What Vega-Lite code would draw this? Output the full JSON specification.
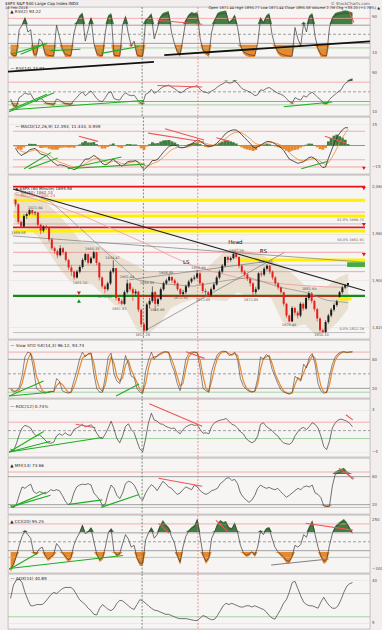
{
"$schema":"https://vega.github.io/schema/vega-lite/v6.json",
"background":"#f2eeee",
"padding":{"left":4,"top":1,"right":6,"bottom":0},
"spacing":1,
"bounds":"flush",
"config":{
 "view":{"stroke":"#a8a0a0","strokeWidth":0.6,"fill":"#f7f4f4"},
 "axis":{"domain":false,"ticks":false,"labelFontSize":4,"labelColor":"#555","labelFont":"DejaVu Sans","labelPadding":1.5,"gridColor":"#e3dcdc","gridWidth":0.5,"labelOverlap":false},
 "text":{"font":"DejaVu Sans"}
},
"datasets":{
"d":[
{"t":0.125,"o":2038,"h":2038.5,"l":2026,"c":2030,"r2":10,"r14":35,"m":-2,"s":-1.33,"hg":-0.67,"k":18,"dd":20,"roc":-3.5,"mfi":18,"cci":-300,"adx":25},
{"t":0.375,"o":2030,"h":2032,"l":1997,"c":2000,"r2":3,"r14":22,"m":-5,"s":-2.54,"hg":-2.46,"k":12,"dd":15,"roc":-3.8,"mfi":14,"cci":-250,"adx":36},
{"t":0.625,"o":2000,"h":2002,"l":1989.7,"c":1992,"r2":4,"r14":20,"m":-7,"s":-4.01,"hg":-2.99,"k":15,"dd":14,"roc":-2.5,"mfi":20,"cci":-160,"adx":40},
{"t":0.875,"o":1992,"h":2013,"l":1990,"c":2010,"r2":60,"r14":38,"m":-6,"s":-4.67,"hg":-1.33,"k":22,"dd":17,"roc":-0.8,"mfi":40,"cci":-40,"adx":41},
{"t":1.125,"o":2010,"h":2016,"l":2005,"c":2013,"r2":70,"r14":42,"m":-5,"s":-4.78,"hg":-0.22,"k":45,"dd":30,"roc":0.5,"mfi":58,"cci":60,"adx":38},
{"t":1.375,"o":2013,"h":2022,"l":2011,"c":2020,"r2":85,"r14":48,"m":-3,"s":-4.19,"hg":1.19,"k":85,"dd":55,"roc":1.0,"mfi":55,"cci":120,"adx":30},
{"t":1.625,"o":2020,"h":2021,"l":2012,"c":2015,"r2":55,"r14":45,"m":-2.5,"s":-3.63,"hg":1.13,"k":95,"dd":80,"roc":0.8,"mfi":60,"cci":80,"adx":24},
{"t":1.875,"o":2015,"h":2018,"l":2011,"c":2016,"r2":60,"r14":46,"m":-2,"s":-3.09,"hg":1.09,"k":92,"dd":92,"roc":0.5,"mfi":64,"cci":40,"adx":19},
{"t":2.125,"o":2016,"h":2016,"l":1990,"c":1995,"r2":8,"r14":35,"m":-4,"s":-3.39,"hg":-0.61,"k":60,"dd":78,"roc":-0.5,"mfi":48,"cci":-120,"adx":19},
{"t":2.375,"o":1995,"h":1997,"l":1979,"c":1985,"r2":5,"r14":30,"m":-6,"s":-4.25,"hg":-1.75,"k":20,"dd":45,"roc":-1,"mfi":44,"cci":-130,"adx":20},
{"t":2.625,"o":1985,"h":1994,"l":1982,"c":1992,"r2":40,"r14":36,"m":-6.5,"s":-4.99,"hg":-1.51,"k":15,"dd":30,"roc":-0.8,"mfi":48,"cci":-80,"adx":20},
{"t":2.875,"o":1992,"h":1995,"l":1986,"c":1990,"r2":33,"r14":35,"m":-7,"s":-5.65,"hg":-1.35,"k":12,"dd":16,"roc":-1.2,"mfi":46,"cci":-60,"adx":20},
{"t":3.125,"o":1990,"h":1991,"l":1966,"c":1970,"r2":8,"r14":28,"m":-9,"s":-6.76,"hg":-2.24,"k":10,"dd":12,"roc":-1.8,"mfi":43,"cci":-150,"adx":22},
{"t":3.375,"o":1970,"h":1972,"l":1952,"c":1955,"r2":4,"r14":26,"m":-11,"s":-8.16,"hg":-2.84,"k":12,"dd":12,"roc":-2.3,"mfi":47,"cci":-190,"adx":25},
{"t":3.625,"o":1955,"h":1958,"l":1945,"c":1950,"r2":3,"r14":25,"m":-12.5,"s":-9.59,"hg":-2.91,"k":14,"dd":13,"roc":-2.4,"mfi":52,"cci":-170,"adx":28},
{"t":3.875,"o":1950,"h":1953,"l":1938,"c":1943,"r2":2,"r14":24,"m":-14,"s":-11.05,"hg":-2.95,"k":13,"dd":13,"roc":-2.2,"mfi":50,"cci":-140,"adx":30},
{"t":4.125,"o":1943,"h":1960,"l":1941,"c":1955,"r2":70,"r14":35,"m":-13.5,"s":-11.86,"hg":-1.64,"k":40,"dd":25,"roc":-1,"mfi":52,"cci":-20,"adx":29},
{"t":4.375,"o":1955,"h":1957,"l":1944,"c":1948,"r2":45,"r14":33,"m":-14,"s":-12.57,"hg":-1.43,"k":35,"dd":32,"roc":-0.6,"mfi":50,"cci":-60,"adx":31},
{"t":4.625,"o":1948,"h":1950,"l":1932,"c":1935,"r2":18,"r14":29,"m":-14.5,"s":-13.21,"hg":-1.29,"k":15,"dd":28,"roc":-0.9,"mfi":40,"cci":-120,"adx":33},
{"t":4.875,"o":1935,"h":1937,"l":1918,"c":1922,"r2":6,"r14":26,"m":-15.5,"s":-13.96,"hg":-1.54,"k":12,"dd":20,"roc":-0.4,"mfi":28,"cci":-160,"adx":34},
{"t":5.125,"o":1922,"h":1926,"l":1908,"c":1915,"r2":4,"r14":25,"m":-16,"s":-14.63,"hg":-1.37,"k":10,"dd":12,"roc":-0.8,"mfi":20,"cci":-200,"adx":34},
{"t":5.375,"o":1915,"h":1917,"l":1901,"c":1905,"r2":3,"r14":24,"m":-17,"s":-15.41,"hg":-1.59,"k":12,"dd":11,"roc":-0.9,"mfi":24,"cci":-180,"adx":34},
{"t":5.625,"o":1905,"h":1918,"l":1903,"c":1915,"r2":50,"r14":32,"m":-16,"s":-15.61,"hg":-0.39,"k":35,"dd":22,"roc":0.2,"mfi":45,"cci":-40,"adx":32},
{"t":5.875,"o":1915,"h":1926,"l":1912,"c":1923,"r2":75,"r14":38,"m":-14.5,"s":-15.24,"hg":0.74,"k":55,"dd":40,"roc":0.5,"mfi":58,"cci":40,"adx":28},
{"t":6.125,"o":1923,"h":1938,"l":1920,"c":1935,"r2":88,"r14":45,"m":-12,"s":-14.17,"hg":2.17,"k":80,"dd":62,"roc":0.8,"mfi":62,"cci":100,"adx":24},
{"t":6.375,"o":1935,"h":1947,"l":1932,"c":1945,"r2":93,"r14":50,"m":-9.5,"s":-12.63,"hg":3.13,"k":95,"dd":82,"roc":1.2,"mfi":64,"cci":180,"adx":22},
{"t":6.625,"o":1945,"h":1946,"l":1927,"c":1930,"r2":35,"r14":42,"m":-9.5,"s":-11.6,"hg":2.1,"k":85,"dd":88,"roc":0.7,"mfi":63,"cci":90,"adx":20},
{"t":6.875,"o":1930,"h":1941,"l":1928,"c":1938,"r2":60,"r14":47,"m":-8.5,"s":-10.58,"hg":2.08,"k":92,"dd":90,"roc":0.9,"mfi":65,"cci":110,"adx":17},
{"t":7.125,"o":1938,"h":1950.3,"l":1936,"c":1948,"r2":85,"r14":52,"m":-7,"s":-9.4,"hg":2.4,"k":93,"dd":92,"roc":1.1,"mfi":62,"cci":150,"adx":15},
{"t":7.375,"o":1948,"h":1949,"l":1926,"c":1930,"r2":30,"r14":44,"m":-8,"s":-8.94,"hg":0.94,"k":50,"dd":72,"roc":0.6,"mfi":45,"cci":0,"adx":12},
{"t":7.625,"o":1930,"h":1932,"l":1900,"c":1905,"r2":8,"r14":36,"m":-10,"s":-9.29,"hg":-0.71,"k":20,"dd":38,"roc":-0.5,"mfi":38,"cci":-140,"adx":11.5},
{"t":7.875,"o":1905,"h":1907,"l":1886,"c":1890,"r2":4,"r14":31,"m":-12.5,"s":-10.35,"hg":-2.15,"k":12,"dd":20,"roc":-1.3,"mfi":30,"cci":-200,"adx":17},
{"t":8.125,"o":1890,"h":1893,"l":1878,"c":1885,"r2":3,"r14":30,"m":-13.5,"s":-11.39,"hg":-2.11,"k":12,"dd":14,"roc":-1.5,"mfi":18,"cci":-180,"adx":20},
{"t":8.375,"o":1885,"h":1898,"l":1882,"c":1895,"r2":55,"r14":38,"m":-13,"s":-11.92,"hg":-1.08,"k":45,"dd":28,"roc":-0.6,"mfi":22,"cci":-60,"adx":18},
{"t":8.625,"o":1895,"h":1918,"l":1892,"c":1915,"r2":88,"r14":48,"m":-11,"s":-11.62,"hg":0.62,"k":85,"dd":60,"roc":0.5,"mfi":45,"cci":100,"adx":16},
{"t":8.875,"o":1915,"h":1934.5,"l":1912,"c":1921,"r2":92,"r14":50,"m":-9.5,"s":-10.92,"hg":1.42,"k":93,"dd":85,"roc":1.8,"mfi":62,"cci":140,"adx":15},
{"t":9.125,"o":1921,"h":1921,"l":1866,"c":1870,"r2":4,"r14":36,"m":-11.5,"s":-11.11,"hg":-0.39,"k":50,"dd":72,"roc":0.3,"mfi":55,"cci":-110,"adx":17},
{"t":9.375,"o":1870,"h":1874,"l":1860,"c":1865,"r2":3,"r14":34,"m":-13,"s":-11.73,"hg":-1.27,"k":35,"dd":45,"roc":-1.5,"mfi":40,"cci":-150,"adx":21},
{"t":9.625,"o":1865,"h":1868,"l":1857.8,"c":1860,"r2":2,"r14":33,"m":-14.5,"s":-12.64,"hg":-1.86,"k":30,"dd":35,"roc":-2.3,"mfi":33,"cci":-130,"adx":23.5},
{"t":9.875,"o":1860,"h":1883,"l":1858,"c":1880,"r2":70,"r14":42,"m":-13.5,"s":-12.93,"hg":-0.57,"k":55,"dd":42,"roc":-1,"mfi":45,"cci":-20,"adx":23},
{"t":10.125,"o":1880,"h":1901.4,"l":1877,"c":1895,"r2":88,"r14":48,"m":-11.5,"s":-12.46,"hg":0.96,"k":88,"dd":68,"roc":0.8,"mfi":65,"cci":80,"adx":21},
{"t":10.375,"o":1895,"h":1897,"l":1881,"c":1885,"r2":50,"r14":44,"m":-11,"s":-11.98,"hg":0.98,"k":70,"dd":78,"roc":1.3,"mfi":70,"cci":30,"adx":19},
{"t":10.625,"o":1885,"h":1888,"l":1865,"c":1878,"r2":25,"r14":42,"m":-11,"s":-11.66,"hg":0.66,"k":45,"dd":58,"roc":0.2,"mfi":68,"cci":-60,"adx":17},
{"t":10.875,"o":1878,"h":1885,"l":1874,"c":1881,"r2":35,"r14":43,"m":-10.5,"s":-11.28,"hg":0.78,"k":42,"dd":45,"roc":-0.4,"mfi":62,"cci":-40,"adx":16},
{"t":11.125,"o":1881,"h":1882,"l":1846,"c":1850,"r2":5,"r14":35,"m":-12,"s":-11.52,"hg":-0.48,"k":20,"dd":32,"roc":-2,"mfi":50,"cci":-180,"adx":20},
{"t":11.375,"o":1850,"h":1852,"l":1820,"c":1825,"r2":2,"r14":28,"m":-14.5,"s":-12.5,"hg":-2,"k":12,"dd":18,"roc":-3.5,"mfi":35,"cci":-240,"adx":24},
{"t":11.625,"o":1825,"h":1828,"l":1812.3,"c":1815,"r2":2,"r14":26,"m":-17,"s":-13.99,"hg":-3.01,"k":10,"dd":12,"roc":-4,"mfi":30,"cci":-240,"adx":23},
{"t":11.875,"o":1815,"h":1862,"l":1813,"c":1859,"r2":80,"r14":45,"m":-15,"s":-14.32,"hg":-0.68,"k":55,"dd":30,"roc":-1.5,"mfi":45,"cci":20,"adx":21},
{"t":12.125,"o":1859,"h":1870,"l":1852,"c":1865,"r2":85,"r14":48,"m":-13,"s":-13.88,"hg":0.88,"k":78,"dd":62,"roc":1.5,"mfi":55,"cci":100,"adx":19},
{"t":12.375,"o":1865,"h":1889.8,"l":1862,"c":1880,"r2":92,"r14":55,"m":-10.5,"s":-12.77,"hg":2.27,"k":95,"dd":82,"roc":3.3,"mfi":63,"cci":150,"adx":17},
{"t":12.625,"o":1880,"h":1882,"l":1849,"c":1860,"r2":40,"r14":47,"m":-10.5,"s":-12.02,"hg":1.52,"k":80,"dd":85,"roc":2,"mfi":58,"cci":40,"adx":15.5},
{"t":12.875,"o":1860,"h":1871,"l":1856,"c":1868,"r2":60,"r14":50,"m":-9.5,"s":-11.19,"hg":1.69,"k":88,"dd":86,"roc":1.8,"mfi":50,"cci":80,"adx":15},
{"t":13.125,"o":1868,"h":1888,"l":1866,"c":1885,"r2":85,"r14":56,"m":-7,"s":-9.81,"hg":2.81,"k":92,"dd":90,"roc":1.3,"mfi":60,"cci":170,"adx":14},
{"t":13.375,"o":1885,"h":1898,"l":1882,"c":1895,"r2":92,"r14":60,"m":-4.5,"s":-8.06,"hg":3.56,"k":95,"dd":93,"roc":1.2,"mfi":70,"cci":220,"adx":13},
{"t":13.625,"o":1895,"h":1903,"l":1892,"c":1900,"r2":94,"r14":62,"m":-2.5,"s":-6.22,"hg":3.72,"k":96,"dd":95,"roc":0.8,"mfi":65,"cci":180,"adx":12},
{"t":13.875,"o":1900,"h":1908.8,"l":1898,"c":1906,"r2":96,"r14":64,"m":-0.5,"s":-4.33,"hg":3.83,"k":94,"dd":95,"roc":0.6,"mfi":58,"cci":150,"adx":12},
{"t":14.125,"o":1906,"h":1907,"l":1896,"c":1900,"r2":55,"r14":60,"m":0,"s":-2.9,"hg":2.9,"k":70,"dd":82,"roc":0.4,"mfi":55,"cci":60,"adx":11},
{"t":14.375,"o":1900,"h":1903,"l":1891,"c":1895,"r2":30,"r14":57,"m":0.2,"s":-1.88,"hg":2.08,"k":55,"dd":65,"roc":0.5,"mfi":48,"cci":-10,"adx":10},
{"t":14.625,"o":1895,"h":1897,"l":1882,"c":1885,"r2":12,"r14":52,"m":-0.5,"s":-1.42,"hg":0.92,"k":30,"dd":45,"roc":-0.2,"mfi":42,"cci":-150,"adx":9},
{"t":14.875,"o":1885,"h":1887,"l":1873,"c":1877,"r2":6,"r14":48,"m":-1.5,"s":-1.45,"hg":-0.05,"k":15,"dd":25,"roc":-0.6,"mfi":45,"cci":-230,"adx":8.5},
{"t":15.125,"o":1877,"h":1884,"l":1874,"c":1880,"r2":40,"r14":50,"m":-1.5,"s":-1.47,"hg":-0.03,"k":45,"dd":30,"roc":0.2,"mfi":52,"cci":-60,"adx":8.5},
{"t":15.375,"o":1880,"h":1893,"l":1877,"c":1890,"r2":80,"r14":55,"m":-1,"s":-1.31,"hg":0.31,"k":80,"dd":60,"roc":0.7,"mfi":58,"cci":60,"adx":8.5},
{"t":15.625,"o":1890,"h":1901,"l":1887,"c":1898,"r2":90,"r14":58,"m":0,"s":-0.88,"hg":0.88,"k":92,"dd":85,"roc":1,"mfi":55,"cci":120,"adx":8},
{"t":15.875,"o":1898,"h":1905,"l":1895,"c":1903,"r2":94,"r14":60,"m":1.2,"s":-0.19,"hg":1.39,"k":95,"dd":92,"roc":1.2,"mfi":52,"cci":150,"adx":7.5},
{"t":16.125,"o":1903,"h":1909,"l":1900,"c":1905,"r2":92,"r14":61,"m":2.5,"s":0.7,"hg":1.8,"k":95,"dd":95,"roc":1,"mfi":62,"cci":170,"adx":7},
{"t":16.375,"o":1905,"h":1917,"l":1902,"c":1912,"r2":94,"r14":63,"m":3.8,"s":1.72,"hg":2.08,"k":93,"dd":94,"roc":1.1,"mfi":58,"cci":240,"adx":7},
{"t":16.625,"o":1912,"h":1914,"l":1892,"c":1895,"r2":40,"r14":55,"m":3.2,"s":2.21,"hg":0.99,"k":60,"dd":78,"roc":0.2,"mfi":50,"cci":50,"adx":9},
{"t":16.875,"o":1895,"h":1897,"l":1878,"c":1882,"r2":15,"r14":50,"m":1.8,"s":2.07,"hg":-0.27,"k":20,"dd":45,"roc":-0.5,"mfi":45,"cci":-150,"adx":11},
{"t":17.125,"o":1882,"h":1886,"l":1874,"c":1880,"r2":10,"r14":49,"m":0.5,"s":1.55,"hg":-1.05,"k":15,"dd":20,"roc":-0.4,"mfi":42,"cci":-220,"adx":10},
{"t":17.375,"o":1880,"h":1882,"l":1872.6,"c":1875,"r2":5,"r14":47,"m":-0.5,"s":0.87,"hg":-1.37,"k":12,"dd":14,"roc":-0.6,"mfi":45,"cci":-180,"adx":8.5},
{"t":17.625,"o":1875,"h":1888,"l":1873,"c":1885,"r2":55,"r14":52,"m":-0.5,"s":0.42,"hg":-0.92,"k":55,"dd":35,"roc":0.8,"mfi":50,"cci":40,"adx":7.5},
{"t":17.875,"o":1885,"h":1896,"l":1883,"c":1893,"r2":80,"r14":55,"m":0,"s":0.28,"hg":-0.28,"k":75,"dd":62,"roc":1.5,"mfi":52,"cci":110,"adx":8},
{"t":18.125,"o":1893,"h":1908,"l":1891,"c":1905,"r2":92,"r14":60,"m":1.5,"s":0.68,"hg":0.82,"k":90,"dd":82,"roc":1.8,"mfi":55,"cci":190,"adx":11},
{"t":18.375,"o":1905,"h":1918,"l":1902,"c":1915,"r2":95,"r14":64,"m":3.5,"s":1.61,"hg":1.89,"k":95,"dd":92,"roc":2,"mfi":65,"cci":220,"adx":15},
{"t":18.625,"o":1915,"h":1928,"l":1912,"c":1925,"r2":96,"r14":67,"m":5.5,"s":2.89,"hg":2.61,"k":97,"dd":95,"roc":2.1,"mfi":70,"cci":200,"adx":19},
{"t":18.875,"o":1925,"h":1941,"l":1923,"c":1940,"r2":97,"r14":71,"m":8,"s":4.58,"hg":3.42,"k":96,"dd":96,"roc":2.3,"mfi":76,"cci":210,"adx":21},
{"t":19.125,"o":1940,"h":1942,"l":1930,"c":1935,"r2":75,"r14":68,"m":9.5,"s":6.2,"hg":3.3,"k":88,"dd":92,"roc":1.8,"mfi":78,"cci":150,"adx":20},
{"t":19.375,"o":1935,"h":1941,"l":1932,"c":1938,"r2":80,"r14":69,"m":10.5,"s":7.62,"hg":2.88,"k":90,"dd":89,"roc":1.2,"mfi":72,"cci":140,"adx":21},
{"t":19.625,"o":1938,"h":1947.2,"l":1936,"c":1945,"r2":90,"r14":72,"m":11,"s":8.74,"hg":2.26,"k":95,"dd":92,"roc":1,"mfi":74,"cci":200,"adx":20},
{"t":19.875,"o":1945,"h":1946,"l":1937,"c":1940,"r2":65,"r14":68,"m":10.8,"s":9.42,"hg":1.38,"k":80,"dd":88,"roc":0.5,"mfi":65,"cci":110,"adx":19},
{"t":20.125,"o":1940,"h":1941,"l":1921,"c":1925,"r2":25,"r14":60,"m":9.5,"s":9.45,"hg":0.05,"k":40,"dd":62,"roc":-0.2,"mfi":45,"cci":-40,"adx":18},
{"t":20.375,"o":1925,"h":1927,"l":1911,"c":1915,"r2":12,"r14":55,"m":7.5,"s":8.81,"hg":-1.31,"k":25,"dd":35,"roc":-0.6,"mfi":36,"cci":-120,"adx":18},
{"t":20.625,"o":1915,"h":1918,"l":1906,"c":1910,"r2":8,"r14":53,"m":5.5,"s":7.72,"hg":-2.22,"k":18,"dd":22,"roc":-1.5,"mfi":30,"cci":-150,"adx":19},
{"t":20.875,"o":1910,"h":1912,"l":1899,"c":1903,"r2":5,"r14":50,"m":3.5,"s":6.33,"hg":-2.83,"k":14,"dd":16,"roc":-2,"mfi":25,"cci":-140,"adx":19},
{"t":21.125,"o":1903,"h":1905,"l":1890,"c":1895,"r2":4,"r14":47,"m":1.5,"s":4.74,"hg":-3.24,"k":12,"dd":13,"roc":-2.3,"mfi":30,"cci":-110,"adx":18},
{"t":21.375,"o":1895,"h":1897,"l":1872.9,"c":1880,"r2":3,"r14":42,"m":-1,"s":2.84,"hg":-3.84,"k":15,"dd":13,"roc":-2,"mfi":40,"cci":-150,"adx":19},
{"t":21.625,"o":1880,"h":1889,"l":1876,"c":1885,"r2":30,"r14":44,"m":-1.8,"s":1.31,"hg":-3.11,"k":40,"dd":28,"roc":-1,"mfi":55,"cci":-60,"adx":18},
{"t":21.875,"o":1885,"h":1914,"l":1883,"c":1912,"r2":85,"r14":54,"m":-0.5,"s":0.71,"hg":-1.21,"k":85,"dd":60,"roc":1.2,"mfi":62,"cci":120,"adx":17},
{"t":22.125,"o":1912,"h":1916,"l":1906,"c":1910,"r2":75,"r14":53,"m":0.5,"s":0.64,"hg":-0.14,"k":80,"dd":82,"roc":1.5,"mfi":58,"cci":80,"adx":16},
{"t":22.375,"o":1910,"h":1923,"l":1907,"c":1920,"r2":88,"r14":57,"m":1.8,"s":1.02,"hg":0.78,"k":90,"dd":85,"roc":0.8,"mfi":55,"cci":140,"adx":14},
{"t":22.625,"o":1920,"h":1927.4,"l":1917,"c":1925,"r2":92,"r14":59,"m":2.8,"s":1.61,"hg":1.19,"k":85,"dd":88,"roc":0.4,"mfi":57,"cci":150,"adx":11},
{"t":22.875,"o":1925,"h":1926,"l":1911,"c":1915,"r2":50,"r14":55,"m":2.8,"s":2,"hg":0.8,"k":60,"dd":72,"roc":0,"mfi":54,"cci":40,"adx":9},
{"t":23.125,"o":1915,"h":1917,"l":1901,"c":1905,"r2":25,"r14":51,"m":2.2,"s":2.07,"hg":0.13,"k":45,"dd":52,"roc":-0.6,"mfi":52,"cci":-60,"adx":8},
{"t":23.375,"o":1905,"h":1907,"l":1891,"c":1895,"r2":12,"r14":47,"m":1,"s":1.72,"hg":-0.72,"k":30,"dd":38,"roc":-1,"mfi":55,"cci":-110,"adx":12},
{"t":23.625,"o":1895,"h":1897,"l":1884,"c":1888,"r2":7,"r14":45,"m":-0.2,"s":1.09,"hg":-1.29,"k":18,"dd":25,"roc":-1.8,"mfi":48,"cci":-140,"adx":16},
{"t":23.875,"o":1888,"h":1890,"l":1877,"c":1880,"r2":5,"r14":42,"m":-1.5,"s":0.24,"hg":-1.74,"k":12,"dd":15,"roc":-2.3,"mfi":42,"cci":-170,"adx":21},
{"t":24.125,"o":1880,"h":1881,"l":1856,"c":1860,"r2":3,"r14":36,"m":-3.5,"s":-0.99,"hg":-2.51,"k":10,"dd":11,"roc":-2.5,"mfi":36,"cci":-210,"adx":24},
{"t":24.375,"o":1860,"h":1862,"l":1836,"c":1840,"r2":2,"r14":30,"m":-6.5,"s":-2.81,"hg":-3.69,"k":8,"dd":9,"roc":-2.6,"mfi":40,"cci":-220,"adx":30},
{"t":24.625,"o":1840,"h":1842,"l":1828.5,"c":1830,"r2":2,"r14":27,"m":-9.5,"s":-5.02,"hg":-4.48,"k":12,"dd":10,"roc":-2.2,"mfi":45,"cci":-160,"adx":38},
{"t":24.875,"o":1830,"h":1856,"l":1829,"c":1853,"r2":65,"r14":38,"m":-10.5,"s":-6.83,"hg":-3.67,"k":45,"dd":28,"roc":-1,"mfi":50,"cci":-40,"adx":39},
{"t":25.125,"o":1853,"h":1855,"l":1840,"c":1845,"r2":40,"r14":35,"m":-11.5,"s":-8.37,"hg":-3.13,"k":40,"dd":42,"roc":-0.2,"mfi":55,"cci":-60,"adx":33},
{"t":25.375,"o":1845,"h":1848,"l":1835,"c":1840,"r2":25,"r14":33,"m":-12.5,"s":-9.73,"hg":-2.77,"k":35,"dd":38,"roc":0.4,"mfi":52,"cci":-30,"adx":27},
{"t":25.625,"o":1840,"h":1863,"l":1837,"c":1860,"r2":75,"r14":42,"m":-12,"s":-10.48,"hg":-1.52,"k":70,"dd":52,"roc":0.6,"mfi":58,"cci":80,"adx":22},
{"t":25.875,"o":1860,"h":1862,"l":1848,"c":1852,"r2":55,"r14":39,"m":-11.5,"s":-10.82,"hg":-0.68,"k":62,"dd":66,"roc":0.2,"mfi":60,"cci":50,"adx":20},
{"t":26.125,"o":1852,"h":1873,"l":1850,"c":1870,"r2":88,"r14":46,"m":-10,"s":-10.55,"hg":0.55,"k":85,"dd":75,"roc":0.8,"mfi":58,"cci":160,"adx":19},
{"t":26.375,"o":1870,"h":1881.6,"l":1866,"c":1878,"r2":92,"r14":49,"m":-8.5,"s":-9.87,"hg":1.37,"k":92,"dd":88,"roc":1.5,"mfi":62,"cci":220,"adx":19},
{"t":26.625,"o":1878,"h":1880,"l":1861,"c":1865,"r2":45,"r14":44,"m":-8,"s":-9.25,"hg":1.25,"k":70,"dd":82,"roc":1.2,"mfi":45,"cci":80,"adx":18},
{"t":26.875,"o":1865,"h":1867,"l":1847,"c":1851,"r2":18,"r14":38,"m":-9,"s":-9.17,"hg":0.17,"k":30,"dd":52,"roc":0.5,"mfi":42,"cci":-60,"adx":17},
{"t":27.125,"o":1851,"h":1853,"l":1830,"c":1835,"r2":6,"r14":33,"m":-11,"s":-9.77,"hg":-1.23,"k":15,"dd":25,"roc":-1,"mfi":35,"cci":-160,"adx":22},
{"t":27.375,"o":1835,"h":1837,"l":1811,"c":1815,"r2":3,"r14":27,"m":-13.5,"s":-11,"hg":-2.5,"k":10,"dd":13,"roc":-3,"mfi":18,"cci":-220,"adx":26},
{"t":27.625,"o":1815,"h":1818,"l":1810.1,"c":1812,"r2":3,"r14":26,"m":-15.5,"s":-12.49,"hg":-3.01,"k":12,"dd":11,"roc":-3.6,"mfi":16,"cci":-200,"adx":22},
{"t":27.875,"o":1812,"h":1832,"l":1810,"c":1829,"r2":65,"r14":34,"m":-15,"s":-13.32,"hg":-1.68,"k":45,"dd":28,"roc":-2,"mfi":17,"cci":-40,"adx":19},
{"t":28.125,"o":1829,"h":1843,"l":1826,"c":1840,"r2":85,"r14":40,"m":-9,"s":-11.9,"hg":2.9,"k":70,"dd":58,"roc":0.5,"mfi":60,"cci":90,"adx":17},
{"t":28.375,"o":1840,"h":1853,"l":1837,"c":1850,"r2":92,"r14":45,"m":-4,"s":-9.29,"hg":5.29,"k":85,"dd":78,"roc":1.5,"mfi":85,"cci":160,"adx":17},
{"t":28.625,"o":1850,"h":1861,"l":1847,"c":1858,"r2":94,"r14":50,"m":1,"s":-5.89,"hg":6.89,"k":92,"dd":88,"roc":2,"mfi":88,"cci":190,"adx":19},
{"t":28.875,"o":1858,"h":1867,"l":1855,"c":1864,"r2":95,"r14":54,"m":5.5,"s":-2.13,"hg":7.63,"k":95,"dd":93,"roc":2.2,"mfi":90,"cci":210,"adx":24},
{"t":29.125,"o":1871.4,"h":1882,"l":1871.4,"c":1880,"r2":97,"r14":64,"m":8.5,"s":2,"hg":6.5,"k":96,"dd":95,"roc":2,"mfi":92,"cci":230,"adx":30},
{"t":29.375,"o":1880,"h":1891,"l":1877,"c":1888,"r2":97,"r14":70,"m":11,"s":5.5,"hg":5.5,"k":94,"dd":95,"roc":1.8,"mfi":86,"cci":200,"adx":35},
{"t":29.625,"o":1888,"h":1894,"l":1885,"c":1892,"r2":95,"r14":73,"m":12.5,"s":8.5,"hg":4,"k":95,"dd":95,"roc":1.4,"mfi":82,"cci":150,"adx":37},
{"t":29.875,"o":1892,"h":1895.8,"l":1889,"c":1895.6,"r2":93,"r14":75,"m":12.4,"s":11.4,"hg":1,"k":96,"dd":95,"roc":0.74,"mfi":74,"cci":95,"adx":38}
],
"hl":[
{"p":"r2","v":85,"k":"ob"},{"p":"r2","v":70,"k":"mid"},{"p":"r2","v":50,"k":"zero"},{"p":"r2","v":30,"k":"mid"},{"p":"r2","v":20,"k":"os"},
{"p":"r14","v":70,"k":"ob"},{"p":"r14","v":50,"k":"zero"},{"p":"r14","v":30,"k":"mid"},{"p":"r14","v":23,"k":"os"},
{"p":"macd","v":10,"k":"ob"},{"p":"macd","v":0,"k":"mid"},{"p":"macd","v":-10,"k":"ob"},{"p":"macd","v":-15,"k":"ob"},
{"p":"sto","v":95,"k":"ob"},{"p":"sto","v":80,"k":"mid"},{"p":"sto","v":50,"k":"zero"},{"p":"sto","v":20,"k":"mid"},{"p":"sto","v":12,"k":"os"},
{"p":"roc","v":1.6,"k":"ob"},{"p":"roc","v":0,"k":"zero"},{"p":"roc","v":-1.5,"k":"os"},
{"p":"mfi","v":90,"k":"ob"},{"p":"mfi","v":80,"k":"mid"},{"p":"mfi","v":20,"k":"mid"},{"p":"mfi","v":14,"k":"os"},
{"p":"cci","v":200,"k":"ob"},{"p":"cci","v":100,"k":"mid"},{"p":"cci","v":0,"k":"zero"},{"p":"cci","v":-100,"k":"mid"},{"p":"cci","v":-175,"k":"os"},
{"p":"adx","v":29,"k":"ob"},{"p":"adx","v":10,"k":"os"}
],
"vl":[{"t":11.57,"k":"a"},{"t":16.43,"k":"b"}],
"tl":[
{"p":"r2","g":"a","k":"sup","t":0.2,"v":6},{"p":"r2","g":"a","k":"sup","t":3.3,"v":30},
{"p":"r2","g":"b","k":"sup","t":1.0,"v":6},{"p":"r2","g":"b","k":"sup","t":3.3,"v":30},
{"p":"r2","g":"c","k":"sup","t":3.6,"v":14},{"p":"r2","g":"c","k":"sup","t":6.2,"v":17},
{"p":"r2","g":"d","k":"sup","t":8.0,"v":8},{"p":"r2","g":"d","k":"sup","t":11.3,"v":23},
{"p":"r2","g":"e","k":"res","t":12.9,"v":81},{"p":"r2","g":"e","k":"res","t":16.8,"v":72},
{"p":"r2","g":"f","k":"res","t":29.6,"v":98},{"p":"r2","g":"f","k":"res","t":30,"v":76},
{"p":"r2","g":"h","k":"trend","t":13.5,"v":4},{"p":"r2","g":"h","k":"trend","t":31.4,"v":34.4},
{"p":"r14","g":"a","k":"sup","t":0,"v":12},{"p":"r14","g":"a","k":"sup","t":3.3,"v":45},
{"p":"r14","g":"b","k":"sup","t":0,"v":9},{"p":"r14","g":"b","k":"sup","t":3.9,"v":48},
{"p":"r14","g":"c","k":"sup","t":0.2,"v":13},{"p":"r14","g":"c","k":"sup","t":11.7,"v":32},
{"p":"r14","g":"d","k":"res","t":12.9,"v":63},{"p":"r14","g":"d","k":"res","t":16.8,"v":60},
{"p":"r14","g":"e","k":"sup","t":23.9,"v":19},{"p":"r14","g":"e","k":"sup","t":28.1,"v":29},
{"p":"r14","g":"h","k":"trend","t":-0.1,"v":92},{"p":"r14","g":"h","k":"trend","t":12.6,"v":112},
{"p":"macd","g":"a","k":"sup","t":0.9,"v":-16.3},{"p":"macd","g":"a","k":"sup","t":3.3,"v":-5},
{"p":"macd","g":"b","k":"sup","t":1.3,"v":-16.3},{"p":"macd","g":"b","k":"sup","t":3.9,"v":-8.8},
{"p":"macd","g":"c","k":"sup","t":4.8,"v":-16.3},{"p":"macd","g":"c","k":"sup","t":9.6,"v":-8.1},
{"p":"macd","g":"d","k":"sup","t":5.4,"v":-16},{"p":"macd","g":"d","k":"sup","t":11.7,"v":-13.1},
{"p":"macd","g":"e","k":"res","t":5.8,"v":6.5},{"p":"macd","g":"e","k":"res","t":7.5,"v":2.9},
{"p":"macd","g":"f","k":"res","t":12,"v":8.7},{"p":"macd","g":"f","k":"res","t":17,"v":2.5},
{"p":"macd","g":"i","k":"res","t":13.5,"v":11.7},{"p":"macd","g":"i","k":"res","t":17,"v":3.8},
{"p":"macd","g":"j","k":"res","t":18.1,"v":5.4},{"p":"macd","g":"j","k":"res","t":19.3,"v":2.9},
{"p":"macd","g":"l","k":"res","t":27.8,"v":6.5},{"p":"macd","g":"l","k":"res","t":29.7,"v":1.7},
{"p":"macd","g":"m","k":"sup","t":25.7,"v":-16.3},{"p":"macd","g":"m","k":"sup","t":28.1,"v":-11},
{"p":"px","g":"a","k":"trend","t":-0.1,"v":2056},{"p":"px","g":"a","k":"trend","t":31.4,"v":1882.5},
{"p":"px","g":"b","k":"aux","t":-0.1,"v":1976},{"p":"px","g":"b","k":"aux","t":31.4,"v":1931},
{"p":"px","g":"c","k":"aux","t":11.5,"v":1812},{"p":"px","g":"c","k":"aux","t":24.2,"v":1948},
{"p":"px","g":"d","k":"aux","t":10.3,"v":1901},{"p":"px","g":"d","k":"aux","t":22.4,"v":1932},
{"p":"sto","g":"a","k":"sup","t":0,"v":4},{"p":"sto","g":"a","k":"sup","t":3.0,"v":35},
{"p":"sto","g":"b","k":"sup","t":0,"v":4},{"p":"sto","g":"b","k":"sup","t":3.6,"v":12},
{"p":"sto","g":"c","k":"sup","t":9.3,"v":4},{"p":"sto","g":"c","k":"sup","t":11.3,"v":29},
{"p":"sto","g":"d","k":"res","t":15.4,"v":95.6},{"p":"sto","g":"d","k":"res","t":17,"v":82},
{"p":"roc","g":"a","k":"sup","t":0,"v":-4.05},{"p":"roc","g":"a","k":"sup","t":3,"v":-0.17},
{"p":"roc","g":"b","k":"sup","t":0,"v":-4.05},{"p":"roc","g":"b","k":"sup","t":3.6,"v":-2},
{"p":"roc","g":"c","k":"sup","t":0,"v":-4.05},{"p":"roc","g":"c","k":"sup","t":8.1,"v":-1.3},
{"p":"roc","g":"d","k":"res","t":5.8,"v":1.2},{"p":"roc","g":"d","k":"res","t":7.5,"v":0.55},
{"p":"roc","g":"e","k":"res","t":12.2,"v":5.1},{"p":"roc","g":"e","k":"res","t":16.8,"v":0.83},
{"p":"roc","g":"f","k":"res","t":29.3,"v":3},{"p":"roc","g":"f","k":"res","t":29.9,"v":2.05},
{"p":"mfi","g":"a","k":"sup","t":0.15,"v":14.2},{"p":"mfi","g":"a","k":"sup","t":3.2,"v":46.5},
{"p":"mfi","g":"b","k":"sup","t":0.45,"v":17.4},{"p":"mfi","g":"b","k":"sup","t":3.6,"v":40},
{"p":"mfi","g":"c","k":"sup","t":5.2,"v":20.6},{"p":"mfi","g":"c","k":"sup","t":8.1,"v":30.3},
{"p":"mfi","g":"d","k":"sup","t":8,"v":14.2},{"p":"mfi","g":"d","k":"sup","t":11.3,"v":41.9},
{"p":"mfi","g":"e","k":"res","t":13,"v":76.7},{"p":"mfi","g":"e","k":"res","t":16.8,"v":59.3},
{"p":"mfi","g":"f","k":"res","t":28.7,"v":98},{"p":"mfi","g":"f","k":"res","t":30,"v":75.5},
{"p":"cci","g":"a","k":"sup","t":0,"v":-310},{"p":"cci","g":"a","k":"sup","t":2.5,"v":-127},
{"p":"cci","g":"b","k":"sup","t":0,"v":-300},{"p":"cci","g":"b","k":"sup","t":9.9,"v":-153},
{"p":"cci","g":"c","k":"aux","t":22.8,"v":-260},{"p":"cci","g":"c","k":"aux","t":27.8,"v":-193},
{"p":"cci","g":"d","k":"res","t":13,"v":207},{"p":"cci","g":"d","k":"res","t":13.9,"v":97},
{"p":"cci","g":"e","k":"res","t":18,"v":240},{"p":"cci","g":"e","k":"res","t":19,"v":117},
{"p":"cci","g":"f","k":"res","t":25.8,"v":207},{"p":"cci","g":"f","k":"res","t":29.9,"v":130}
],
"lv":[
{"v":2060,"k":"R","t0":-0.1,"t1":31.4},
{"v":2037,"k":"Y","t0":-0.1,"t1":31.4},
{"v":2016.7,"k":"r","t0":-0.1,"t1":31.4},
{"v":2010,"k":"Y","t0":-0.1,"t1":31.4},
{"v":1996.4,"k":"n","t0":-0.1,"t1":31.4},
{"v":1990.7,"k":"R","t0":-0.1,"t1":31.4},
{"v":1984.4,"k":"Y","t0":-0.1,"t1":31.4},
{"v":1963.7,"k":"n","t0":-0.1,"t1":31.4},
{"v":1948,"k":"r","t0":-0.1,"t1":31.4},
{"v":1935,"k":"Y","t0":20,"t1":31.4},
{"v":1926,"k":"n","t0":-0.1,"t1":31.4},
{"v":1915,"k":"r","t0":-0.1,"t1":31.4},
{"v":1873.6,"k":"G","t0":-0.1,"t1":31.4},
{"v":1873.6,"k":"R","t0":11,"t1":29},
{"v":1868.4,"k":"Y","t0":29,"t1":30.2},
{"v":1811,"k":"n","t0":-0.1,"t1":31.4}
],
"bb":[{"t":0,"u":2050,"lo":2000},{"t":1,"u":2045,"lo":1990},{"t":2,"u":2040,"lo":1978},{"t":3,"u":2030,"lo":1952},{"t":4,"u":2012,"lo":1922},{"t":5,"u":1990,"lo":1898},{"t":6,"u":1965,"lo":1895},{"t":7,"u":1962,"lo":1893},{"t":8,"u":1955,"lo":1875},{"t":9,"u":1945,"lo":1858},{"t":10,"u":1935,"lo":1852},{"t":11,"u":1925,"lo":1815},{"t":12,"u":1915,"lo":1808},{"t":13,"u":1915,"lo":1825},{"t":14,"u":1915,"lo":1852},{"t":15,"u":1912,"lo":1862},{"t":16,"u":1916,"lo":1868},{"t":17,"u":1916,"lo":1870},{"t":18,"u":1935,"lo":1866},{"t":19,"u":1952,"lo":1865},{"t":20,"u":1955,"lo":1880},{"t":21,"u":1950,"lo":1872},{"t":22,"u":1945,"lo":1875},{"t":23,"u":1935,"lo":1870},{"t":24,"u":1925,"lo":1830},{"t":25,"u":1910,"lo":1820},{"t":26,"u":1892,"lo":1825},{"t":27,"u":1887,"lo":1807},{"t":28,"u":1890,"lo":1812},{"t":29,"u":1905,"lo":1830},{"t":29.9,"u":1912,"lo":1852}],
"ma1":[{"t":0,"a":2048},{"t":2,"a":2038},{"t":4,"a":2026},{"t":6,"a":2012},{"t":8,"a":1995},{"t":10,"a":1978},{"t":12,"a":1961},{"t":14,"a":1942},{"t":16,"a":1925},{"t":18,"a":1914},{"t":20,"a":1905},{"t":22,"a":1899},{"t":24,"a":1894},{"t":26,"a":1891},{"t":28,"a":1889},{"t":29.9,"a":1888}],
"ma2":[{"t":0,"b":2058},{"t":1.5,"b":2048},{"t":3.3,"b":2034},{"t":5,"b":2005},{"t":7,"b":1970},{"t":9,"b":1935},{"t":11,"b":1901},{"t":13,"b":1895},{"t":16,"b":1890},{"t":19,"b":1900},{"t":21,"b":1905},{"t":23.9,"b":1888},{"t":26,"b":1880},{"t":28,"b":1866},{"t":29.9,"b":1862}],
"pl":[{"t":1.9,"v":2024,"s":"2021.94"},{"t":0.4,"v":1981,"s":"1989.68"},{"t":7.0,"v":1954,"s":"1950.33"},{"t":8.8,"v":1938,"s":"1934.47"},{"t":5.9,"v":1896,"s":"1901.10"},{"t":8.1,"v":1871,"s":"1878.93"},{"t":9.4,"v":1851,"s":"1857.83"},{"t":10.1,"v":1906,"s":"1901.44"},{"t":11.5,"v":1807,"s":"1812.29"},{"t":12.8,"v":1850,"s":"1848.98"},{"t":11.9,"v":1895,"s":"1889.85"},{"t":13.6,"v":1913,"s":"1908.85"},{"t":14.9,"v":1870,"s":"1872.85"},{"t":16.5,"v":1922,"s":"1916.99"},{"t":16.9,"v":1867,"s":"1872.65"},{"t":19.9,"v":1951,"s":"1947.20"},{"t":22.5,"v":1931,"s":"1927.35"},{"t":21.2,"v":1866,"s":"1872.85"},{"t":24.6,"v":1824,"s":"1828.46"},{"t":26.4,"v":1886,"s":"1881.60"},{"t":27.5,"v":1807,"s":"1810.10"}],
"fib":[{"t":31.3,"v":1999.7,"s":"61.8% 1999.70"},{"t":31.3,"v":1965,"s":"50.0% 1961.91"},{"t":31.3,"v":1813,"s":"0.0% 1812.29"}],
"hs":[{"t":19.8,"v":1965,"s":"Head"},{"t":15.4,"v":1931,"s":"LS"},{"t":22.3,"v":1950,"s":"RS"}],
"ar":[{"p":"px","t":5.8,"v":1878,"k":"dn"},{"p":"px","t":5.8,"v":1865,"k":"up"},{"p":"px","t":31.3,"v":2057,"k":"dn"},{"p":"px","t":31.3,"v":1995,"k":"dn"},{"p":"px","t":31.3,"v":1944,"k":"dn"},{"p":"macd","t":31.3,"v":-16,"k":"dn"}],
"bx":[{"t0":29.8,"t1":31.4,"v0":1923,"v1":1931}]
},
"vconcat":[
{"width":362,"height":50,
 "layer":[
  {"data":{"name":"d"},"mark":{"type":"area","color":"#3f7f3f"},"encoding":{"x":{"field":"t","type":"quantitative","axis":null},"y":{"field":"r2","type":"quantitative","scale":{"domain":[70,104],"range":[17.35,0],"clamp":true},"axis":null},"y2":{"datum":70}}},
  {"data":{"name":"d"},"mark":{"type":"area","color":"#e8892f"},"encoding":{"x":{"field":"t","type":"quantitative","axis":null},"y":{"field":"r2","type":"quantitative","scale":{"domain":[6,30],"range":[50,37.76],"clamp":true},"axis":null},"y2":{"datum":30}}},
  {"layer":[
   {"data":{"name":"hl"},"transform":[{"filter":"datum.p=='r2'"}],"mark":{"type":"rule","strokeWidth":0.8},"encoding":{"x":{"datum":-0.1,"axis":null},"x2":{"datum":31.4},"y":{"field":"v","type":"quantitative"},"color":{"field":"k","type":"nominal","scale":{"domain":["ob","mid","zero","os"],"range":["#f49a9a","#8a8a8a","#8a8a8a","#90cc90"]},"legend":null},"strokeDash":{"field":"k","type":"nominal","scale":{"domain":["ob","mid","zero","os"],"range":[[1,0],[1,0],[3,2],[1,0]]},"legend":null}}},
   {"data":{"name":"vl"},"mark":{"type":"rule","strokeDash":[2,1.5],"strokeWidth":0.8},"encoding":{"x":{"field":"t","type":"quantitative","axis":null},"color":{"field":"k","type":"nominal","scale":{"domain":["a","b"],"range":["#5e7a5e","#f27878"]},"legend":null}}},
   {"data":{"name":"d"},"mark":{"type":"line","color":"#3a3a3a","strokeWidth":0.7,"clip":true},"encoding":{"x":{"field":"t","type":"quantitative","scale":{"domain":[-0.1,31.4],"nice":false,"zero":false},"axis":{"values":[0,1,2,3,4,5,6,7,8,9,10,11,12,13,14,15,16,17,18,19,20,21,22,23,24,25,26,27,28,29,30,31],"labels":false,"grid":true,"title":null}},"y":{"field":"r2","type":"quantitative","scale":{"domain":[6,104]},"axis":{"orient":"right","values":[10,30,50,70,90],"title":null}}}},
   {"data":{"name":"tl"},"transform":[{"filter":"datum.p=='r2' && datum.k!='trend'"}],"mark":{"type":"line","clip":true,"strokeWidth":1.1},"encoding":{"x":{"field":"t","type":"quantitative","axis":null},"y":{"field":"v","type":"quantitative"},"detail":{"field":"g"},"color":{"field":"k","type":"nominal","scale":{"domain":["sup","res","trend","aux"],"range":["#1fae1f","#f05555","#111111","#808080"]},"legend":null}}},
   {"data":{"name":"tl"},"transform":[{"filter":"datum.p=='r2' && datum.k=='trend'"}],"mark":{"type":"line","clip":true,"strokeWidth":1.8,"color":"#111"},"encoding":{"x":{"field":"t","type":"quantitative","axis":null},"y":{"field":"v","type":"quantitative"},"detail":{"field":"g"}}},
   {"data":{"values":[{}]},"mark":{"type":"text","align":"left","baseline":"middle","fontSize":4.2,"color":"#222"},"encoding":{"x":{"datum":0.1,"axis":null},"y":{"datum":99.2},"text":{"value":"▲ RSI(2) 93.22"}}},
   {"data":{"values":[{}]},"mark":{"type":"text","align":"left","baseline":"middle","fontSize":4,"color":"#111","dx":-3},"encoding":{"x":{"datum":-0.1,"axis":null},"y":{"datum":117},"text":{"value":"$SPX  S&P 500 Large Cap Index  INDX"}}},
   {"data":{"values":[{}]},"mark":{"type":"text","align":"left","baseline":"middle","fontSize":3.6,"color":"#333","dx":-3},"encoding":{"x":{"datum":-0.1,"axis":null},"y":{"datum":108.6},"text":{"value":"16-Feb-2016"}}},
   {"data":{"values":[{}]},"mark":{"type":"text","align":"right","baseline":"middle","fontSize":4,"color":"#555"},"encoding":{"x":{"datum":31.4,"axis":null},"y":{"datum":117},"text":{"value":"© StockCharts.com"}}},
   {"data":{"values":[{}]},"mark":{"type":"text","align":"right","baseline":"middle","fontSize":3.6,"color":"#222","dx":10},"encoding":{"x":{"datum":31.4,"axis":null},"y":{"datum":108.6},"text":{"value":"Open 1871.44  High 1895.77  Low 1871.44  Close 1895.58  Volume 2.7M  Chg +33.20 (+1.78%) ▲"}}}
  ],"resolve":{"scale":{"color":"independent","strokeDash":"independent"}}}
 ],
 "resolve":{"scale":{"y":"independent"}}},
{"width":362,"height":58,
 "layer":[
  {"data":{"name":"d"},"mark":{"type":"area","color":"#3f7f3f"},"encoding":{"x":{"field":"t","type":"quantitative","axis":null},"y":{"field":"r14","type":"quantitative","scale":{"domain":[70,112],"range":[22.98,0],"clamp":true},"axis":null},"y2":{"datum":70}}},
  {"data":{"name":"d"},"mark":{"type":"area","color":"#e8892f"},"encoding":{"x":{"field":"t","type":"quantitative","axis":null},"y":{"field":"r14","type":"quantitative","scale":{"domain":[6,30],"range":[58,44.87],"clamp":true},"axis":null},"y2":{"datum":30}}},
  {"layer":[
   {"data":{"name":"hl"},"transform":[{"filter":"datum.p=='r14'"}],"mark":{"type":"rule","strokeWidth":0.8},"encoding":{"x":{"datum":-0.1,"axis":null},"x2":{"datum":31.4},"y":{"field":"v","type":"quantitative"},"color":{"field":"k","type":"nominal","scale":{"domain":["ob","mid","zero","os"],"range":["#f49a9a","#8a8a8a","#8a8a8a","#90cc90"]},"legend":null},"strokeDash":{"field":"k","type":"nominal","scale":{"domain":["ob","mid","zero","os"],"range":[[1,0],[1,0],[3,2],[1,0]]},"legend":null}}},
   {"data":{"name":"vl"},"mark":{"type":"rule","strokeDash":[2,1.5],"strokeWidth":0.8},"encoding":{"x":{"field":"t","type":"quantitative","axis":null},"color":{"field":"k","type":"nominal","scale":{"domain":["a","b"],"range":["#5e7a5e","#f27878"]},"legend":null}}},
   {"data":{"name":"d"},"mark":{"type":"line","color":"#3a3a3a","strokeWidth":0.7,"clip":true},"encoding":{"x":{"field":"t","type":"quantitative","scale":{"domain":[-0.1,31.4],"nice":false,"zero":false},"axis":{"values":[0,1,2,3,4,5,6,7,8,9,10,11,12,13,14,15,16,17,18,19,20,21,22,23,24,25,26,27,28,29,30,31],"labels":false,"grid":true,"title":null}},"y":{"field":"r14","type":"quantitative","scale":{"domain":[6,112]},"axis":{"orient":"right","values":[10,30,50,70,90],"title":null}}}},
   {"data":{"name":"tl"},"transform":[{"filter":"datum.p=='r14' && datum.k!='trend'"}],"mark":{"type":"line","clip":true,"strokeWidth":1.1},"encoding":{"x":{"field":"t","type":"quantitative","axis":null},"y":{"field":"v","type":"quantitative"},"detail":{"field":"g"},"color":{"field":"k","type":"nominal","scale":{"domain":["sup","res","trend","aux"],"range":["#1fae1f","#f05555","#111111","#808080"]},"legend":null}}},
   {"data":{"name":"tl"},"transform":[{"filter":"datum.p=='r14' && datum.k=='trend'"}],"mark":{"type":"line","clip":true,"strokeWidth":1.8,"color":"#111"},"encoding":{"x":{"field":"t","type":"quantitative","axis":null},"y":{"field":"v","type":"quantitative"},"detail":{"field":"g"}}},
   {"data":{"values":[{}]},"mark":{"type":"text","align":"left","baseline":"middle","fontSize":4.2,"color":"#222"},"encoding":{"x":{"datum":0.1,"axis":null},"y":{"datum":96.8},"text":{"value":"— RSI(14) 74.97"}}}
  ],"resolve":{"scale":{"color":"independent","strokeDash":"independent"}}}
 ],
 "resolve":{"scale":{"y":"independent"}}},
{"width":362,"height":57,
 "layer":[
  {"data":{"name":"hl"},"transform":[{"filter":"datum.p=='macd'"}],"mark":{"type":"rule","strokeWidth":0.8},"encoding":{"x":{"datum":-0.1,"axis":null},"x2":{"datum":31.4},"y":{"field":"v","type":"quantitative"},"color":{"field":"k","type":"nominal","scale":{"domain":["ob","mid","zero","os"],"range":["#f49a9a","#7a7a7a","#8a8a8a","#90cc90"]},"legend":null}}},
  {"data":{"name":"vl"},"mark":{"type":"rule","strokeDash":[2,1.5],"strokeWidth":0.8},"encoding":{"x":{"field":"t","type":"quantitative","axis":null},"color":{"field":"k","type":"nominal","scale":{"domain":["a","b"],"range":["#5e7a5e","#f27878"]},"legend":null}}},
  {"data":{"name":"d"},"mark":{"type":"bar","size":2.9},"encoding":{"x":{"field":"t","type":"quantitative","scale":{"domain":[-0.1,31.4],"nice":false,"zero":false},"axis":{"values":[0,1,2,3,4,5,6,7,8,9,10,11,12,13,14,15,16,17,18,19,20,21,22,23,24,25,26,27,28,29,30,31],"labels":false,"grid":true,"title":null}},"y":{"field":"hg","type":"quantitative","scale":{"domain":[-18,17.5]},"axis":{"orient":"right","values":[-15,-10,-5,0,5,10,15],"title":null}},"y2":{"datum":0},"color":{"condition":{"test":"datum.hg >= 0","value":"#3e7e3e"},"value":"#e8892f"}}},
  {"data":{"name":"d"},"mark":{"type":"line","color":"#e8892f","strokeWidth":0.8,"clip":true},"encoding":{"x":{"field":"t","type":"quantitative","axis":null},"y":{"field":"s","type":"quantitative"}}},
  {"data":{"name":"d"},"mark":{"type":"line","color":"#2a2a2a","strokeWidth":0.8,"clip":true},"encoding":{"x":{"field":"t","type":"quantitative","axis":null},"y":{"field":"m","type":"quantitative"}}},
  {"data":{"name":"tl"},"transform":[{"filter":"datum.p=='macd'"}],"mark":{"type":"line","clip":true,"strokeWidth":1.1},"encoding":{"x":{"field":"t","type":"quantitative","axis":null},"y":{"field":"v","type":"quantitative"},"detail":{"field":"g"},"color":{"field":"k","type":"nominal","scale":{"domain":["sup","res","trend","aux"],"range":["#1fae1f","#f05555","#111111","#808080"]},"legend":null}}},
  {"data":{"name":"ar"},"transform":[{"filter":"datum.p=='macd'"}],"mark":{"type":"point","filled":true,"size":14,"shape":"triangle-down","color":"#e8141b","opacity":1},"encoding":{"x":{"field":"t","type":"quantitative","axis":null},"y":{"field":"v","type":"quantitative"}}},
  {"data":{"values":[{}]},"mark":{"type":"text","align":"left","baseline":"middle","fontSize":4.2,"color":"#222"},"encoding":{"x":{"datum":0.1,"axis":null},"y":{"datum":13.3},"text":{"value":"— MACD(12,26,9) 12.393, 11.434, 0.959"}}}
 ],
 "resolve":{"scale":{"color":"independent"}}},
{"width":362,"height":164,
 "layer":[
  {"data":{"name":"bb"},"mark":{"type":"area","color":"#e6dccb","opacity":0.85,"clip":true},"encoding":{"x":{"field":"t","type":"quantitative","scale":{"domain":[-0.1,31.4],"nice":false,"zero":false},"axis":{"values":[0,1,2,3,4,5,6,7,8,9,10,11,12,13,14,15,16,17,18,19,20,21,22,23,24,25,26,27,28,29,30,31],"labels":false,"grid":true,"title":null}},"y":{"field":"u","type":"quantitative","scale":{"domain":[1806,2062]},"axis":{"orient":"right","values":[1820,1830,1840,1850,1860,1870,1880,1890,1900,1910,1920,1930,1940,1950,1960,1970,1980,1990,2000,2010,2020,2030,2040,2050,2060],"title":null}},"y2":{"field":"lo"}}},
  {"data":{"name":"vl"},"mark":{"type":"rule","strokeDash":[2,1.5],"strokeWidth":0.8},"encoding":{"x":{"field":"t","type":"quantitative","axis":null},"color":{"field":"k","type":"nominal","scale":{"domain":["a","b"],"range":["#5e7a5e","#f27878"]},"legend":null}}},
  {"data":{"name":"lv"},"transform":[{"filter":"datum.k=='n'"}],"mark":{"type":"rule","color":"#9a9a9a","strokeWidth":0.6},"encoding":{"x":{"field":"t0","type":"quantitative","axis":null},"x2":{"field":"t1"},"y":{"field":"v","type":"quantitative"}}},
  {"data":{"name":"lv"},"transform":[{"filter":"datum.k=='r'"}],"mark":{"type":"rule","color":"#f29090","strokeWidth":0.8},"encoding":{"x":{"field":"t0","type":"quantitative","axis":null},"x2":{"field":"t1"},"y":{"field":"v","type":"quantitative"}}},
  {"data":{"name":"lv"},"transform":[{"filter":"datum.k=='Y'"}],"mark":{"type":"rule","color":"#fff000","strokeWidth":3},"encoding":{"x":{"field":"t0","type":"quantitative","axis":null},"x2":{"field":"t1"},"y":{"field":"v","type":"quantitative"}}},
  {"data":{"name":"lv"},"transform":[{"filter":"datum.k=='G'"}],"mark":{"type":"rule","color":"#168a16","strokeWidth":2.2},"encoding":{"x":{"field":"t0","type":"quantitative","axis":null},"x2":{"field":"t1"},"y":{"field":"v","type":"quantitative"}}},
  {"data":{"name":"lv"},"transform":[{"filter":"datum.k=='R'"}],"mark":{"type":"rule","color":"#e8141b","strokeWidth":1.8},"encoding":{"x":{"field":"t0","type":"quantitative","axis":null},"x2":{"field":"t1"},"y":{"field":"v","type":"quantitative"}}},
  {"data":{"name":"bx"},"mark":{"type":"rect","color":"#3fae3f"},"encoding":{"x":{"field":"t0","type":"quantitative","axis":null},"x2":{"field":"t1"},"y":{"field":"v0","type":"quantitative"},"y2":{"field":"v1"}}},
  {"data":{"name":"ma1"},"mark":{"type":"line","color":"#f0a0a0","strokeWidth":0.9,"clip":true},"encoding":{"x":{"field":"t","type":"quantitative","axis":null},"y":{"field":"a","type":"quantitative"}}},
  {"data":{"name":"ma2"},"mark":{"type":"line","color":"#8c8c8c","strokeWidth":0.7,"clip":true},"encoding":{"x":{"field":"t","type":"quantitative","axis":null},"y":{"field":"b","type":"quantitative"}}},
  {"data":{"name":"tl"},"transform":[{"filter":"datum.p=='px' && datum.k=='aux'"}],"mark":{"type":"line","clip":true,"strokeWidth":0.7,"color":"#7d7d7d"},"encoding":{"x":{"field":"t","type":"quantitative","axis":null},"y":{"field":"v","type":"quantitative"},"detail":{"field":"g"}}},
  {"data":{"name":"tl"},"transform":[{"filter":"datum.p=='px' && datum.k=='trend'"}],"mark":{"type":"line","clip":true,"strokeWidth":1.1,"color":"#222"},"encoding":{"x":{"field":"t","type":"quantitative","axis":null},"y":{"field":"v","type":"quantitative"},"detail":{"field":"g"}}},
  {"data":{"name":"d"},"mark":{"type":"rule","strokeWidth":0.6},"encoding":{"x":{"field":"t","type":"quantitative","axis":null},"y":{"field":"l","type":"quantitative"},"y2":{"field":"h"},"color":{"condition":{"test":"datum.c < datum.o","value":"#e3201c"},"value":"#1a1a1a"}}},
  {"data":{"name":"d"},"mark":{"type":"bar","size":2},"encoding":{"x":{"field":"t","type":"quantitative","axis":null},"y":{"field":"o","type":"quantitative"},"y2":{"field":"c"},"color":{"condition":{"test":"datum.c < datum.o","value":"#e3201c"},"value":"#1a1a1a"}}},
  {"data":{"name":"ar"},"transform":[{"filter":"datum.p=='px'"}],"mark":{"type":"point","filled":true,"size":16,"opacity":1},"encoding":{"x":{"field":"t","type":"quantitative","axis":null},"y":{"field":"v","type":"quantitative"},"shape":{"field":"k","type":"nominal","scale":{"domain":["dn","up"],"range":["triangle-down","triangle-up"]},"legend":null},"color":{"field":"k","type":"nominal","scale":{"domain":["dn","up"],"range":["#e8141b","#168a16"]},"legend":null}}},
  {"data":{"name":"pl"},"mark":{"type":"text","fontSize":3.5,"color":"#555"},"encoding":{"x":{"field":"t","type":"quantitative","axis":null},"y":{"field":"v","type":"quantitative"},"text":{"field":"s"}}},
  {"data":{"name":"fib"},"mark":{"type":"text","fontSize":3.5,"color":"#666","align":"right","baseline":"bottom","dy":-0.5},"encoding":{"x":{"field":"t","type":"quantitative","axis":null},"y":{"field":"v","type":"quantitative"},"text":{"field":"s"}}},
  {"data":{"name":"hs"},"mark":{"type":"text","fontSize":5.5,"color":"#111"},"encoding":{"x":{"field":"t","type":"quantitative","axis":null},"y":{"field":"v","type":"quantitative"},"text":{"field":"s"}}},
  {"data":{"values":[{}]},"mark":{"type":"text","align":"left","baseline":"middle","fontSize":4,"color":"#222"},"encoding":{"x":{"datum":0.1,"axis":null},"y":{"datum":2055.8},"text":{"value":"▲ $SPX (60 Minute) 1895.58"}}},
  {"data":{"values":[{}]},"mark":{"type":"text","align":"left","baseline":"middle","fontSize":4,"color":"#555"},"encoding":{"x":{"datum":0.1,"axis":null},"y":{"datum":2049.5},"text":{"value":"— MA(50) 1862.14"}}},
  {"data":{"values":[{}]},"mark":{"type":"text","align":"left","baseline":"middle","fontSize":4,"color":"#e07070"},"encoding":{"x":{"datum":0.1,"axis":null},"y":{"datum":2043.3},"text":{"value":"— MA(200) 1888.24"}}}
 ],
 "resolve":{"scale":{"color":"independent","shape":"independent"}}},
{"width":362,"height":58,
 "layer":[
  {"data":{"name":"hl"},"transform":[{"filter":"datum.p=='sto'"}],"mark":{"type":"rule","strokeWidth":0.8},"encoding":{"x":{"datum":-0.1,"axis":null},"x2":{"datum":31.4},"y":{"field":"v","type":"quantitative"},"color":{"field":"k","type":"nominal","scale":{"domain":["ob","mid","zero","os"],"range":["#f49a9a","#8a8a8a","#8a8a8a","#90cc90"]},"legend":null},"strokeDash":{"field":"k","type":"nominal","scale":{"domain":["ob","mid","zero","os"],"range":[[1,0],[1,0],[3,2],[1,0]]},"legend":null}}},
  {"data":{"name":"vl"},"mark":{"type":"rule","strokeDash":[2,1.5],"strokeWidth":0.8},"encoding":{"x":{"field":"t","type":"quantitative","axis":null},"color":{"field":"k","type":"nominal","scale":{"domain":["a","b"],"range":["#5e7a5e","#f27878"]},"legend":null}}},
  {"data":{"name":"d"},"mark":{"type":"line","color":"#e8892f","strokeWidth":1.2,"clip":true},"encoding":{"x":{"field":"t","type":"quantitative","scale":{"domain":[-0.1,31.4],"nice":false,"zero":false},"axis":{"values":[0,1,2,3,4,5,6,7,8,9,10,11,12,13,14,15,16,17,18,19,20,21,22,23,24,25,26,27,28,29,30,31],"labels":false,"grid":true,"title":null}},"y":{"field":"dd","type":"quantitative","scale":{"domain":[7,115]},"axis":{"orient":"right","values":[20,50,80],"title":null}}}},
  {"data":{"name":"d"},"mark":{"type":"line","color":"#3a3a3a","strokeWidth":0.6,"clip":true},"encoding":{"x":{"field":"t","type":"quantitative","axis":null},"y":{"field":"k","type":"quantitative"}}},
  {"data":{"name":"tl"},"transform":[{"filter":"datum.p=='sto'"}],"mark":{"type":"line","clip":true,"strokeWidth":1.1},"encoding":{"x":{"field":"t","type":"quantitative","axis":null},"y":{"field":"v","type":"quantitative"},"detail":{"field":"g"},"color":{"field":"k","type":"nominal","scale":{"domain":["sup","res","trend","aux"],"range":["#1fae1f","#f05555","#111111","#808080"]},"legend":null}}},
  {"data":{"values":[{}]},"mark":{"type":"text","align":"left","baseline":"middle","fontSize":4.2,"color":"#222"},"encoding":{"x":{"datum":0.1,"axis":null},"y":{"datum":107.5},"text":{"value":"— Slow STO %K(14,3) 96.12, 93.74"}}}
 ],
 "resolve":{"scale":{"color":"independent","strokeDash":"independent"}}},
{"width":362,"height":58,
 "layer":[
  {"data":{"name":"hl"},"transform":[{"filter":"datum.p=='roc'"}],"mark":{"type":"rule","strokeWidth":0.8},"encoding":{"x":{"datum":-0.1,"axis":null},"x2":{"datum":31.4},"y":{"field":"v","type":"quantitative"},"color":{"field":"k","type":"nominal","scale":{"domain":["ob","mid","zero","os"],"range":["#f49a9a","#8a8a8a","#8a8a8a","#90cc90"]},"legend":null},"strokeDash":{"field":"k","type":"nominal","scale":{"domain":["ob","mid","zero","os"],"range":[[1,0],[1,0],[3,2],[1,0]]},"legend":null}}},
  {"data":{"name":"vl"},"mark":{"type":"rule","strokeDash":[2,1.5],"strokeWidth":0.8},"encoding":{"x":{"field":"t","type":"quantitative","axis":null},"color":{"field":"k","type":"nominal","scale":{"domain":["a","b"],"range":["#5e7a5e","#f27878"]},"legend":null}}},
  {"data":{"name":"d"},"mark":{"type":"line","color":"#3a3a3a","strokeWidth":0.7,"clip":true},"encoding":{"x":{"field":"t","type":"quantitative","scale":{"domain":[-0.1,31.4],"nice":false,"zero":false},"axis":{"values":[0,1,2,3,4,5,6,7,8,9,10,11,12,13,14,15,16,17,18,19,20,21,22,23,24,25,26,27,28,29,30,31],"labels":false,"grid":true,"title":null}},"y":{"field":"roc","type":"quantitative","scale":{"domain":[-4.2,5.5]},"axis":{"orient":"right","values":[-4,-3,-2,-1,0,1,2,3,4],"title":null}}}},
  {"data":{"name":"tl"},"transform":[{"filter":"datum.p=='roc'"}],"mark":{"type":"line","clip":true,"strokeWidth":1.1},"encoding":{"x":{"field":"t","type":"quantitative","axis":null},"y":{"field":"v","type":"quantitative"},"detail":{"field":"g"},"color":{"field":"k","type":"nominal","scale":{"domain":["sup","res","trend","aux"],"range":["#1fae1f","#f05555","#111111","#808080"]},"legend":null}}},
  {"data":{"values":[{}]},"mark":{"type":"text","align":"left","baseline":"middle","fontSize":4.2,"color":"#222"},"encoding":{"x":{"datum":0.1,"axis":null},"y":{"datum":4.5},"text":{"value":"— ROC(12) 0.74%"}}}
 ],
 "resolve":{"scale":{"color":"independent","strokeDash":"independent"}}},
{"width":362,"height":56,
 "layer":[
  {"data":{"name":"d"},"mark":{"type":"area","color":"#3f7f3f"},"encoding":{"x":{"field":"t","type":"quantitative","axis":null},"y":{"field":"mfi","type":"quantitative","scale":{"domain":[80,111],"range":[16.07,0],"clamp":true},"axis":null},"y2":{"datum":80}}},
  {"data":{"name":"d"},"mark":{"type":"area","color":"#e8892f"},"encoding":{"x":{"field":"t","type":"quantitative","axis":null},"y":{"field":"mfi","type":"quantitative","scale":{"domain":[3,20],"range":[56,47.19],"clamp":true},"axis":null},"y2":{"datum":20}}},
  {"layer":[
   {"data":{"name":"hl"},"transform":[{"filter":"datum.p=='mfi'"}],"mark":{"type":"rule","strokeWidth":0.8},"encoding":{"x":{"datum":-0.1,"axis":null},"x2":{"datum":31.4},"y":{"field":"v","type":"quantitative"},"color":{"field":"k","type":"nominal","scale":{"domain":["ob","mid","zero","os"],"range":["#f49a9a","#8a8a8a","#8a8a8a","#90cc90"]},"legend":null}}},
   {"data":{"name":"vl"},"mark":{"type":"rule","strokeDash":[2,1.5],"strokeWidth":0.8},"encoding":{"x":{"field":"t","type":"quantitative","axis":null},"color":{"field":"k","type":"nominal","scale":{"domain":["a","b"],"range":["#5e7a5e","#f27878"]},"legend":null}}},
   {"data":{"name":"d"},"mark":{"type":"line","color":"#3a3a3a","strokeWidth":0.7,"clip":true},"encoding":{"x":{"field":"t","type":"quantitative","scale":{"domain":[-0.1,31.4],"nice":false,"zero":false},"axis":{"values":[0,1,2,3,4,5,6,7,8,9,10,11,12,13,14,15,16,17,18,19,20,21,22,23,24,25,26,27,28,29,30,31],"labels":false,"grid":true,"title":null}},"y":{"field":"mfi","type":"quantitative","scale":{"domain":[3,111]},"axis":{"orient":"right","values":[20,50,80],"title":null}}}},
   {"data":{"name":"tl"},"transform":[{"filter":"datum.p=='mfi'"}],"mark":{"type":"line","clip":true,"strokeWidth":1.1},"encoding":{"x":{"field":"t","type":"quantitative","axis":null},"y":{"field":"v","type":"quantitative"},"detail":{"field":"g"},"color":{"field":"k","type":"nominal","scale":{"domain":["sup","res","trend","aux"],"range":["#1fae1f","#f05555","#111111","#808080"]},"legend":null}}},
   {"data":{"values":[{}]},"mark":{"type":"text","align":"left","baseline":"middle","fontSize":4.2,"color":"#222"},"encoding":{"x":{"datum":0.1,"axis":null},"y":{"datum":102.3},"text":{"value":"▲ MFI(14) 73.66"}}}
  ],"resolve":{"scale":{"color":"independent"}}}
 ],
 "resolve":{"scale":{"y":"independent"}}},
{"width":362,"height":58,
 "layer":[
  {"data":{"name":"d"},"mark":{"type":"area","color":"#3f7f3f"},"encoding":{"x":{"field":"t","type":"quantitative","axis":null},"y":{"field":"cci","type":"quantitative","scale":{"domain":[100,270],"range":[17,0],"clamp":true},"axis":null},"y2":{"datum":100}}},
  {"data":{"name":"d"},"mark":{"type":"area","color":"#e8892f"},"encoding":{"x":{"field":"t","type":"quantitative","axis":null},"y":{"field":"cci","type":"quantitative","scale":{"domain":[-310,-100],"range":[58,37],"clamp":true},"axis":null},"y2":{"datum":-100}}},
  {"layer":[
   {"data":{"name":"hl"},"transform":[{"filter":"datum.p=='cci'"}],"mark":{"type":"rule","strokeWidth":0.8},"encoding":{"x":{"datum":-0.1,"axis":null},"x2":{"datum":31.4},"y":{"field":"v","type":"quantitative"},"color":{"field":"k","type":"nominal","scale":{"domain":["ob","mid","zero","os"],"range":["#f49a9a","#8a8a8a","#8a8a8a","#90cc90"]},"legend":null},"strokeDash":{"field":"k","type":"nominal","scale":{"domain":["ob","mid","zero","os"],"range":[[1,0],[1,0],[3,2],[1,0]]},"legend":null}}},
   {"data":{"name":"vl"},"mark":{"type":"rule","strokeDash":[2,1.5],"strokeWidth":0.8},"encoding":{"x":{"field":"t","type":"quantitative","axis":null},"color":{"field":"k","type":"nominal","scale":{"domain":["a","b"],"range":["#5e7a5e","#f27878"]},"legend":null}}},
   {"data":{"name":"d"},"mark":{"type":"line","color":"#3a3a3a","strokeWidth":0.7,"clip":true},"encoding":{"x":{"field":"t","type":"quantitative","scale":{"domain":[-0.1,31.4],"nice":false,"zero":false},"axis":{"values":[0,1,2,3,4,5,6,7,8,9,10,11,12,13,14,15,16,17,18,19,20,21,22,23,24,25,26,27,28,29,30,31],"labels":false,"grid":true,"title":null}},"y":{"field":"cci","type":"quantitative","scale":{"domain":[-310,270]},"axis":{"orient":"right","values":[-300,-250,-200,-150,-100,-50,0,50,100,150,200,250],"title":null}}}},
   {"data":{"name":"tl"},"transform":[{"filter":"datum.p=='cci'"}],"mark":{"type":"line","clip":true,"strokeWidth":1.1},"encoding":{"x":{"field":"t","type":"quantitative","axis":null},"y":{"field":"v","type":"quantitative"},"detail":{"field":"g"},"color":{"field":"k","type":"nominal","scale":{"domain":["sup","res","trend","aux"],"range":["#1fae1f","#f05555","#111111","#808080"]},"legend":null}}},
   {"data":{"values":[{}]},"mark":{"type":"text","align":"left","baseline":"middle","fontSize":4.2,"color":"#222"},"encoding":{"x":{"datum":0.1,"axis":null},"y":{"datum":225},"text":{"value":"▲ CCI(20) 95.25"}}}
  ],"resolve":{"scale":{"color":"independent","strokeDash":"independent"}}}
 ],
 "resolve":{"scale":{"y":"independent"}}},
{"width":362,"height":55,
 "layer":[
  {"data":{"name":"hl"},"transform":[{"filter":"datum.p=='adx'"}],"mark":{"type":"rule","strokeWidth":0.8},"encoding":{"x":{"datum":-0.1,"axis":null},"x2":{"datum":31.4},"y":{"field":"v","type":"quantitative"},"color":{"field":"k","type":"nominal","scale":{"domain":["ob","mid","zero","os"],"range":["#f49a9a","#8a8a8a","#8a8a8a","#90cc90"]},"legend":null}}},
  {"data":{"name":"vl"},"mark":{"type":"rule","strokeDash":[2,1.5],"strokeWidth":0.8},"encoding":{"x":{"field":"t","type":"quantitative","axis":null},"color":{"field":"k","type":"nominal","scale":{"domain":["a","b"],"range":["#5e7a5e","#f27878"]},"legend":null}}},
  {"data":{"name":"d"},"mark":{"type":"line","color":"#3a3a3a","strokeWidth":0.7,"clip":true},"encoding":{"x":{"field":"t","type":"quantitative","scale":{"domain":[-0.1,31.4],"nice":false,"zero":false},"axis":{"values":[0,1,2,3,4,5,6,7,8,9,10,11,12,13,14,15,16,17,18,19,20,21,22,23,24,25,26,27,28,29,30,31],"labels":true,"grid":true,"title":null,"labelExpr":"['2016','5','6','7','8','11','12','13','14','15','19','20','21','22','25','26','27','28','29','Feb','2','3','4','5','8','9','10','11','12','16','17','18'][datum.value]"}},"y":{"field":"adx","type":"quantitative","scale":{"domain":[5,44]},"axis":{"orient":"right","values":[5,10,15,20,25,30,35,40],"title":null}}}},
  {"data":{"values":[{}]},"mark":{"type":"text","align":"left","baseline":"middle","fontSize":4.2,"color":"#222"},"encoding":{"x":{"datum":0.1,"axis":null},"y":{"datum":41.2},"text":{"value":"— ADX(14) 40.89"}}}
 ],
 "resolve":{"scale":{"color":"independent"}}}
]
}
